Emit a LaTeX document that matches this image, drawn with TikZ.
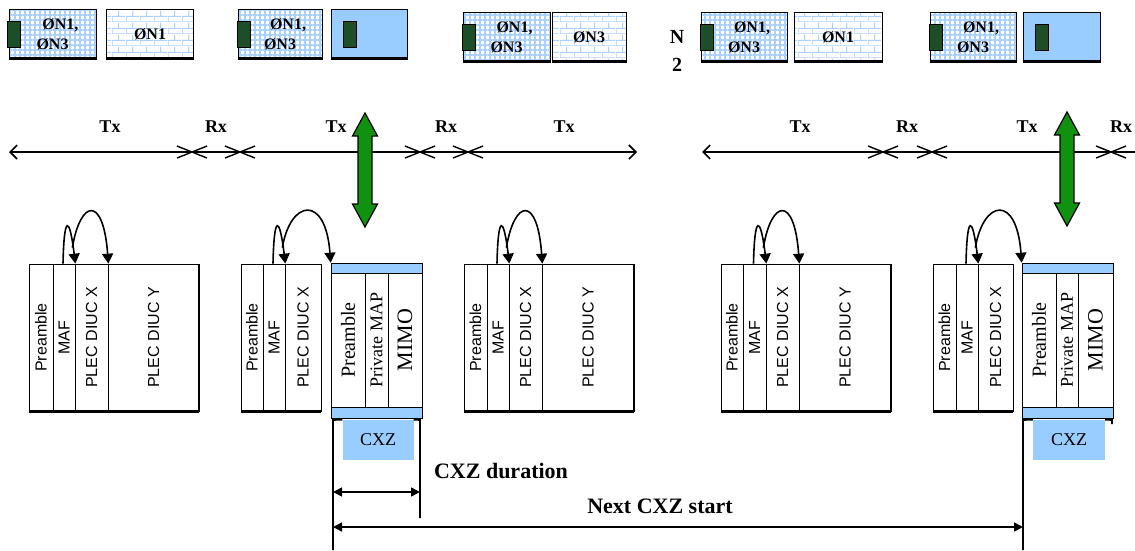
\documentclass[tikz,border=0pt]{standalone}
\usepackage{fontspec}
\setmainfont{Liberation Serif}
\setsansfont{Liberation Sans}
\setmonofont{Liberation Mono}
\usetikzlibrary{arrows.meta,patterns,patterns.meta,calc}

\definecolor{cxzblue}{RGB}{153,204,255}
\definecolor{latblue}{RGB}{170,208,255}
\definecolor{arrowgreen}{RGB}{16,145,16}
\definecolor{markgreen}{RGB}{28,78,40}

\tikzdeclarepattern{
  name=wallbricks,
  type=uncolored,
  bounding box={(0pt,0pt) and (14pt,12pt)},
  tile size={(14pt,12pt)},
  code={
    \draw[line width=1.2pt] (0pt,0pt) -- (14pt,0pt) (0pt,6pt) -- (14pt,6pt)
      (0pt,0pt) -- (0pt,6pt) (7pt,6pt) -- (7pt,12pt);
  }
}

\tikzset{
  topbox/.style={draw, line width=0.7pt, minimum height=50pt, inner sep=0pt,
    font=\bfseries\fontsize{16}{20}\selectfont,
    path picture={\draw[line width=5pt] (path picture bounding box.south west) -- (path picture bounding box.south east);}},
  gridbox/.style={topbox, align=left, preaction={fill=white},
    pattern={Hatch[angle=0,distance=5pt,line width=1.6pt]}, pattern color=latblue},
  brickbox/.style={topbox, preaction={fill=white}, pattern=wallbricks, pattern color=latblue},
  bluebox/.style={topbox, fill=cxzblue},
  marker/.style={draw, line width=0.7pt, fill=markgreen, minimum width=13pt, minimum height=26pt, inner sep=0pt},
  field/.style={draw, line width=0.7pt, fill=white, rotate=90, inner sep=0pt, minimum width=147pt,
    font=\sffamily\fontsize{16}{16}\selectfont},
  cfield/.style={draw, line width=0.7pt, fill=white, rotate=90, inner sep=0pt, minimum width=134pt},
  band/.style={draw, line width=0.7pt, fill=cxzblue, minimum width=91pt, minimum height=155pt, inner sep=0pt},
  cxzbox/.style={fill=cxzblue, minimum width=71pt, minimum height=40pt, inner sep=0pt, font=\fontsize{18}{18}\selectfont},
  txlbl/.style={font=\bfseries\fontsize{18}{18}\selectfont},
  hop/.style={line width=1.6pt, -{Triangle[width=11pt,length=10pt]}},
  dimline/.style={line width=1.6pt, {Triangle[width=9pt,length=9pt]}-{Triangle[width=9pt,length=9pt]}},
  timeline/.style={line width=1.6pt},
  gswitch/.pic={\draw[line width=1.2pt, fill=arrowgreen] (0,-57) -- (12.5,-34) -- (7,-34) -- (7,34) -- (12.5,34)
      -- (0,57) -- (-12.5,34) -- (-7,34) -- (-7,-34) -- (-12.5,-34) -- cycle;}
}

\begin{document}
\begin{tikzpicture}[x=1pt,y=-1pt]
\useasboundingbox (0,0) rectangle (1135,550);
\clip (0,0) rectangle (1135,550);

% top row of zones
\node[gridbox, minimum width=87pt] (t1) at (52.5,34.5) {\hspace*{16pt}ØN1,\\\hspace*{10pt}ØN3};
\node[brickbox, minimum width=87pt] (t2) at (150,34.5) {ØN1};
\node[gridbox, minimum width=84pt] (t3) at (280,34.5) {\hspace*{16pt}ØN1,\\\hspace*{10pt}ØN3};
\node[bluebox, minimum width=76pt] (t4) at (369,34.5) {};
\node[gridbox, minimum width=87pt] (t5) at (506.5,37) {\hspace*{16pt}ØN1,\\\hspace*{10pt}ØN3};
\node[brickbox, minimum width=74pt] (t6) at (589,37) {ØN3};
\node[align=center, font=\bfseries\fontsize{20}{28}\selectfont] (n2) at (677,51) {N\\2};
\node[gridbox, minimum width=86pt] (t7) at (744,37) {\hspace*{16pt}ØN1,\\\hspace*{10pt}ØN3};
\node[brickbox, minimum width=88pt] (t8) at (838,37) {ØN1};
\node[gridbox, minimum width=86pt] (t9) at (973,37) {\hspace*{16pt}ØN1,\\\hspace*{10pt}ØN3};
\node[bluebox, minimum width=77pt] (t10) at (1061.5,37) {};

\node[marker, anchor=west] (m1) at ([xshift=-1pt]t1.west) {};
\node[marker, anchor=west] (m3) at ([xshift=-1pt]t3.west) {};
\node[marker, anchor=west] (m4) at ([xshift=12pt]t4.west) {};
\node[marker, anchor=west] (m5) at ([xshift=-1pt]t5.west) {};
\node[marker, anchor=west] (m7) at ([xshift=-1pt]t7.west) {};
\node[marker, anchor=west] (m9) at ([xshift=-1pt]t9.west) {};
\node[marker, anchor=west] (m10) at ([xshift=12pt]t10.west) {};

% Tx / Rx time lines
\node[txlbl] (tx1) at (110,127) {Tx};
\node[txlbl] (rx1) at (216,127) {Rx};
\node[txlbl] (tx2) at (336,127) {Tx};
\node[txlbl] (rx2) at (446,127) {Rx};
\node[txlbl] (tx3) at (564,127) {Tx};
\node[txlbl] (tx4) at (800,127) {Tx};
\node[txlbl] (rx4) at (907,127) {Rx};
\node[txlbl] (tx5) at (1027,127) {Tx};
\node[txlbl] (rx5) at (1121,127) {Rx};

\coordinate (tlA) at (9,152);
\coordinate (tlB) at (637,152);
\coordinate (tlC) at (702,152);
\coordinate (tlD) at (1140,152);
\draw[timeline, {Straight Barb[length=7pt,width=14pt]}-{Straight Barb[length=7pt,width=14pt]}] (tlA) -- (tlB);
\draw[timeline, {Straight Barb[length=7pt,width=14pt]}-] (tlC) -- (tlD);
\foreach \cx in {192,240,420,468,883,932,1111}
  \draw[line width=1.4pt] (\cx-15,146) -- (\cx+15,158) (\cx-15,158) -- (\cx+15,146);

\pic at (365,170) {gswitch};
\pic at (1067,169) {gswitch};

% frame 1
\node[field, minimum height=24pt] (pre1) at (41,337.5) {Preamble};
\node[field, minimum height=22pt] (maf1) at (64,337.5) {MAF};
\node[field, minimum height=33pt] (plx1) at (91.5,337.5) {PLEC DIUC X};
\node[field, minimum height=91pt] (ply1) at (153.5,337.5) {PLEC DIUC Y};
\draw[line width=2.5pt] (pre1.north west) -- (ply1.south west);
\draw[line width=1.8pt] (ply1.south east) -- (ply1.south west);

% frame 2
\node[field, minimum height=22pt] (pre2) at (252,337.5) {Preamble};
\node[field, minimum height=22pt] (maf2) at (274,337.5) {MAF};
\node[field, minimum height=36pt] (plx2) at (303,337.5) {PLEC DIUC X};
\draw[line width=2.5pt] (pre2.north west) -- (plx2.south west);

% CXZ zone 1
\node[band] (bandA) at (376.5,340.5) {};
\node[cfield, minimum height=34pt, font=\fontsize{20}{20}\selectfont] (cpre1) at (348,340) {Preamble};
\node[cfield, minimum height=23pt, font=\fontsize{18}{18}\selectfont] (cmap1) at (376.5,340) {Private MAP};
\node[cfield, minimum height=34pt, font=\fontsize{22}{22}\selectfont] (mimo1) at (405,340) {MIMO};
\node[cxzbox] (cxz1) at (378,440) {CXZ};

% frame 3
\node[field, minimum height=23pt] (pre3) at (475.5,337.5) {Preamble};
\node[field, minimum height=22pt] (maf3) at (498,337.5) {MAF};
\node[field, minimum height=33pt] (plx3) at (525.5,337.5) {PLEC DIUC X};
\node[field, minimum height=92pt] (ply3) at (588,337.5) {PLEC DIUC Y};
\draw[line width=2.5pt] (pre3.north west) -- (ply3.south west);
\draw[line width=1.8pt] (ply3.south east) -- (ply3.south west);

% frame 4
\node[field, minimum height=22pt] (pre4) at (732,337.5) {Preamble};
\node[field, minimum height=23pt] (maf4) at (754.5,337.5) {MAF};
\node[field, minimum height=33pt] (plx4) at (782.5,337.5) {PLEC DIUC X};
\node[field, minimum height=92pt] (ply4) at (845,337.5) {PLEC DIUC Y};
\draw[line width=2.5pt] (pre4.north west) -- (ply4.south west);
\draw[line width=1.8pt] (ply4.south east) -- (ply4.south west);

% frame 5
\node[field, minimum height=23pt] (pre5) at (944.5,337.5) {Preamble};
\node[field, minimum height=22pt] (maf5) at (967,337.5) {MAF};
\node[field, minimum height=35pt] (plx5) at (995.5,337.5) {PLEC DIUC X};
\draw[line width=2.5pt] (pre5.north west) -- (plx5.south west);

% CXZ zone 2
\node[band] (bandB) at (1067.5,340.5) {};
\node[cfield, minimum height=34pt, font=\fontsize{20}{20}\selectfont] (cpre2) at (1039,340) {Preamble};
\node[cfield, minimum height=22pt, font=\fontsize{18}{18}\selectfont] (cmap2) at (1067,340) {Private MAP};
\node[cfield, minimum height=35pt, font=\fontsize{22}{22}\selectfont] (mimo2) at (1095.5,340) {MIMO};
\node[cxzbox, minimum width=72pt] (cxz2) at (1069,440) {CXZ};

% map pointers
\draw[hop] ([xshift=-1pt]maf1.east) .. controls +(1,-49) and +(-6,-49) .. (maf1.south east);
\draw[hop] ($(maf1.south east)+(-3,-16)$) .. controls +(8,-48) and +(-5,-69) .. (plx1.south east);
\draw[hop] ([xshift=-1pt]maf2.east) .. controls +(1,-49) and +(-6,-49) .. (maf2.south east);
\draw[hop] ($(maf2.south east)+(-3,-16)$) .. controls +(8,-48) and +(-5,-69) .. (bandA.north west);
\draw[hop] ([xshift=-1pt]maf3.east) .. controls +(1,-49) and +(-6,-49) .. (maf3.south east);
\draw[hop] ($(maf3.south east)+(-3,-16)$) .. controls +(8,-48) and +(-5,-69) .. (plx3.south east);
\draw[hop] ([xshift=-1pt]maf4.east) .. controls +(1,-49) and +(-6,-49) .. (maf4.south east);
\draw[hop] ($(maf4.south east)+(-3,-16)$) .. controls +(8,-48) and +(-5,-69) .. (plx4.south east);
\draw[hop] ([xshift=-1pt]maf5.east) .. controls +(1,-49) and +(-6,-49) .. (maf5.south east);
\draw[hop] ($(maf5.south east)+(-3,-16)$) .. controls +(8,-48) and +(-5,-69) .. (bandB.north west);

% durations
\coordinate (brA) at (333,420);
\coordinate (brAend) at (333,550);
\coordinate (brR) at (420,420);
\coordinate (brRend) at (420,518);
\coordinate (brB) at (1023,420);
\coordinate (brBend) at (1023,550);
\draw[line width=1.6pt] (cxz1.north west) -- (brA) -- (brAend);
\draw[line width=1.6pt] (cxz1.north east) -- (brR) -- (brRend);
\draw[line width=1.6pt] (cxz2.north west) -- (brB) -- (brBend);
\draw[line width=1.6pt] (cxz2.north east) -- (1112,420) -- (1112,424);

\coordinate (durL) at (333,492);
\coordinate (durR) at (420,492);
\coordinate (nxtL) at (333,527);
\coordinate (nxtR) at (1023,527);
\draw[dimline] (durL) -- (durR);
\draw[dimline] (nxtL) -- (nxtR);
\node[font=\bfseries\fontsize{22}{22}\selectfont] (dlbl) at (501,471) {CXZ duration};
\node[font=\bfseries\fontsize{22}{22}\selectfont] (nlbl) at (660,506) {Next CXZ start};
\end{tikzpicture}
\end{document}
